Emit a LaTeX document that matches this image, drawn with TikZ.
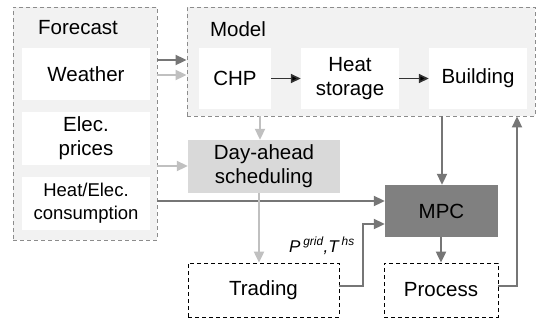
\documentclass[tikz,border=0pt]{standalone}
\usepackage{fontspec}
\setmainfont{Liberation Sans}
\usetikzlibrary{arrows.meta}
\definecolor{panelfill}{HTML}{F2F2F2}
\definecolor{panelline}{HTML}{8C8C8C}
\definecolor{darkflow}{HTML}{767676}
\definecolor{lightflow}{HTML}{C0C0C0}
\definecolor{dayfill}{HTML}{D9D9D9}
\definecolor{mpcfill}{HTML}{808080}
\tikzset{
  panel/.style={draw=panelline, fill=panelfill, dashed, dash pattern=on 4pt off 3pt, line width=0.9pt, inner sep=0pt},
  whitebox/.style={fill=white, draw=none, align=center, inner sep=0pt,
    font=\fontsize{20.5}{24}\selectfont},
  outbox/.style={draw=black, dashed, dash pattern=on 4pt off 3pt, line width=0.8pt, fill=white,
    align=center, inner sep=0pt, font=\fontsize{20.5}{24}\selectfont},
  labeltext/.style={font=\fontsize{20.5}{24}\selectfont, inner sep=0pt},
  darkarrow/.style={draw=darkflow, line width=2pt, -{Triangle[length=11pt,width=10pt]}},
  lightarrow/.style={draw=lightflow, line width=2pt, -{Triangle[length=11pt,width=10pt]}},
  blackarrow/.style={draw=black!80, line width=1.6pt, -{Triangle[length=10pt,width=9pt,fill=black]}},
}
\begin{document}
\begin{tikzpicture}[x=1pt, y=-1pt]
\useasboundingbox (0,0) rectangle (537,322);
\fill[white] (0,0) rectangle (537,322);

% forecast panel
\node[panel, minimum width=144pt, minimum height=233pt] (forecast) at (85,123.5) {};
\node[labeltext] (forecastlbl) at (78,28) {Forecast};
\node[whitebox, minimum width=128pt, minimum height=52pt] (weather) at (86,74) {Weather};
\node[whitebox, minimum width=128pt, minimum height=53pt] (prices) at (86,138.5) {Elec.\\prices};
\node[whitebox, minimum width=128pt, minimum height=53pt, font=\fontsize{18.5}{23}\selectfont] (consumption) at (86,203.5) {Heat/Elec.\\consumption};

% model panel
\node[panel, minimum width=348pt, minimum height=109pt] (model) at (361,61.5) {};
\node[labeltext] (modellbl) at (238,29) {Model};
\node[whitebox, minimum width=72pt, minimum height=61pt] (chp) at (235,78.5) {CHP};
\node[whitebox, minimum width=98pt, minimum height=61pt] (storage) at (350,78.5) {Heat\\storage};
\node[whitebox, minimum width=98pt, minimum height=61pt] (building) at (478,78.5) {Building};

% planning and control blocks
\node[fill=dayfill, minimum width=152pt, minimum height=53pt, align=center, inner sep=0pt,
  font=\fontsize{20.5}{24}\selectfont] (dayahead) at (264,166.5) {Day-ahead\\scheduling};
\node[fill=mpcfill, minimum width=113pt, minimum height=52pt, inner sep=0pt,
  font=\fontsize{20.5}{24}\selectfont] (mpc) at (441.5,211) {MPC};
\node[outbox, minimum width=151pt, minimum height=54pt] (trading) at (263.5,290) {Trading};
\node[outbox, minimum width=114pt, minimum height=54pt] (process) at (441,290) {Process};

% routing points
\coordinate (tradeturn) at (363,286);
\coordinate (tradeup) at (363,224);
\coordinate (procturn) at (517,286);

% forecast inputs
\draw[darkarrow] (forecast.east |- 0,60) -- (model.west |- 0,60);
\draw[lightarrow] (forecast.east |- 0,75) -- (model.west |- 0,75);
\draw[lightarrow] (forecast.east |- 0,166) -- (dayahead.west |- 0,166);
\draw[darkarrow] (forecast.east |- 0,201) -- (mpc.west |- 0,201);

% model internals
\draw[blackarrow] (chp.east) -- (storage.west);
\draw[blackarrow] (storage.east) -- (building.west);

% scheduling path
\draw[lightarrow] (model.south -| 260,0) -- (dayahead.north -| 260,0);
\draw[lightarrow] (dayahead.south -| 259,0) -- (trading.north -| 259,0);
\draw[darkarrow] (trading.east |- tradeturn) -- (tradeturn) -- (tradeup) -- (mpc.west |- tradeup);
\node[font=\fontsize{17}{20}\selectfont\itshape, anchor=base west, inner sep=0pt] (setpoints) at (289,252)
  {P\,\textsuperscript{grid},T\,\textsuperscript{hs}};

% control loop
\draw[darkarrow] (model.south -| 442,0) -- (mpc.north -| 442,0);
\draw[darkarrow] (mpc.south -| 441,0) -- (process.north -| 441,0);
\draw[darkarrow] (process.east |- procturn) -- (procturn) -- (model.south -| procturn);
\end{tikzpicture}
\end{document}
